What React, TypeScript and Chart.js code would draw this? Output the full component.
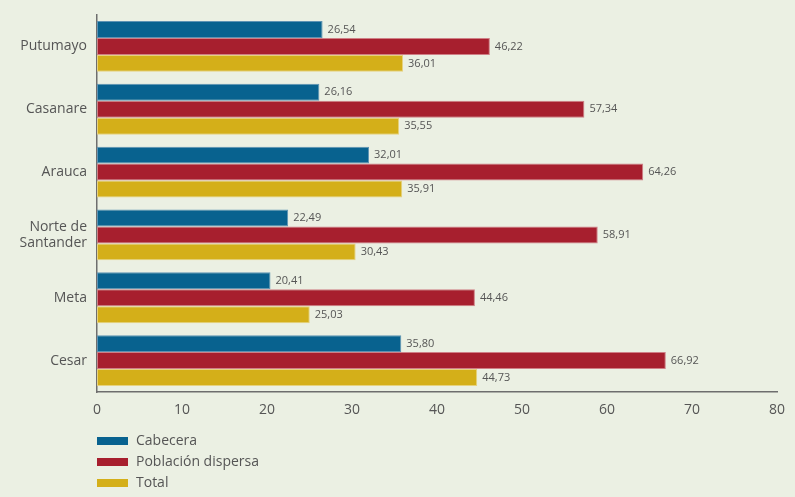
import React, { useEffect, useRef } from "react";
import { Chart, registerables } from "chart.js";

Chart.register(...registerables);

const categories: (string | string[])[] = ["Putumayo", "Casanare", "Arauca", ["Norte de", "Santander"], "Meta", "Cesar"];
const cabecera = [26.54, 26.16, 32.01, 22.49, 20.41, 35.8];
const dispersa = [46.22, 57.34, 64.26, 58.91, 44.46, 66.92];
const total = [36.01, 35.55, 35.91, 30.43, 25.03, 44.73];
const seriesNames = ["Cabecera", "Población dispersa", "Total"];
const xTicks = [0, 10, 20, 30, 40, 50, 60, 70, 80];

const COLORS = ["#08628f", "#a71f2e", "#d4af19"];
const BORDERS = ["#5e93b3", "#cf7f86", "#e6d27e"];
const BG = "#ebf0e3";
const TEXT = "#555555";
const FONT = "'Open Sans', 'Noto Sans', sans-serif";

const bgPlugin = {
  id: "bgfill",
  beforeDraw(chart: any) {
    const { ctx, width, height } = chart;
    ctx.save();
    ctx.fillStyle = BG;
    ctx.fillRect(0, 0, width, height);
    ctx.restore();
  },
};

const labelPlugin = {
  id: "valuelabels",
  afterDatasetsDraw(chart: any) {
    const { ctx } = chart;
    ctx.save();
    ctx.font = `11px ${FONT}`;
    ctx.fillStyle = TEXT;
    ctx.textAlign = "left";
    ctx.textBaseline = "middle";
    chart.data.datasets.forEach((ds: any, i: number) => {
      const meta = chart.getDatasetMeta(i);
      meta.data.forEach((bar: any, j: number) => {
        const v = ds.data[j] as number;
        ctx.fillText(v.toFixed(2).replace(".", ","), bar.x + 5, bar.y);
      });
    });
    ctx.restore();
  },
};

const legendPlugin = {
  id: "customlegend",
  afterDraw(chart: any) {
    const { ctx } = chart;
    ctx.save();
    ctx.font = `14px ${FONT}`;
    ctx.textBaseline = "middle";
    ctx.textAlign = "left";
    seriesNames.forEach((name, i) => {
      const y = 441 + i * 21;
      ctx.fillStyle = COLORS[i];
      ctx.fillRect(97, y - 4, 31, 8);
      ctx.fillStyle = TEXT;
      ctx.fillText(name, 136, y);
    });
    ctx.restore();
  },
};

export default function App() {
  const ref = useRef<HTMLCanvasElement>(null);
  useEffect(() => {
    document.body.style.margin = "0";
    document.body.style.background = BG;
    const chart = new Chart(ref.current!, {
      type: "bar",
      data: {
        labels: categories,
        datasets: [cabecera, dispersa, total].map((d, i) => ({
          label: seriesNames[i],
          data: d,
          backgroundColor: COLORS[i],
          borderColor: BORDERS[i],
          borderWidth: 1,
          borderSkipped: false,
          categoryPercentage: 0.81,
          barPercentage: 1,
        })),
      },
      options: {
        indexAxis: "y",
        animation: false,
        responsive: false,
        layout: { padding: { top: 15, right: 18, left: 0, bottom: 0 } },
        plugins: { legend: { display: false }, tooltip: { enabled: false } },
        scales: {
          x: {
            min: 0,
            max: 80,
            afterBuildTicks: (s: any) => {
              s.ticks = xTicks.map((v) => ({ value: v }));
            },
            afterFit: (s: any) => {
              s.height = 105;
              s.paddingLeft = 0;
              s.paddingRight = 0;
            },
            grid: { display: false, drawTicks: false },
            border: { display: true, color: "#6e6e6e", width: 1.5 },
            ticks: { color: TEXT, font: { size: 14, family: FONT }, padding: 10 },
          },
          y: {
            afterFit: (s: any) => {
              s.width = 97;
              s.paddingTop = 0;
              s.paddingBottom = 0;
            },
            grid: { display: false, drawTicks: false },
            border: { display: true, color: "#6e6e6e", width: 1.5 },
            ticks: { color: TEXT, font: { size: 14, family: FONT }, padding: 10 },
          },
        },
      },
      plugins: [bgPlugin, labelPlugin, legendPlugin],
    });
    return () => chart.destroy();
  }, []);
  return (
    <div style={{ position: "absolute", left: 0, top: 0 }}>
      <canvas ref={ref} width={795} height={497} style={{ display: "block" }} />
    </div>
  );
}
